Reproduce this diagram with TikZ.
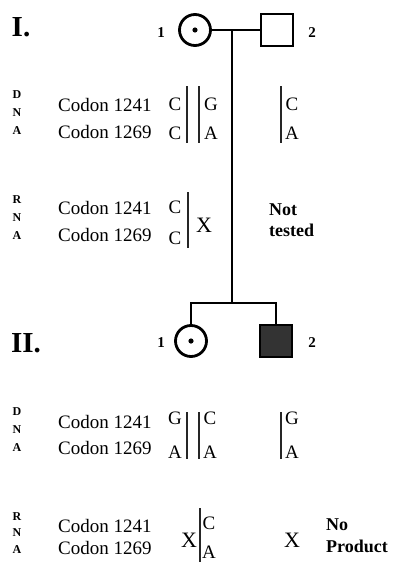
\documentclass[tikz,border=0pt]{standalone}
\usepackage{fontspec}
\setmainfont{Liberation Serif}
\usepackage{tikz}
\usetikzlibrary{positioning}

\begin{document}
\begin{tikzpicture}[x=1pt,y=-1pt,
  female/.style={circle,draw,line width=2.8pt,minimum size=31pt,inner sep=0pt},
  male/.style={rectangle,draw,line width=1.8pt,minimum size=32pt,inner sep=0pt},
  gen/.style={font=\bfseries\fontsize{29}{29}\selectfont},
  num/.style={font=\bfseries\fontsize{15}{15}\selectfont},
  codon/.style={anchor=west,inner sep=0pt,font=\fontsize{19}{19}\selectfont},
  base/.style={inner sep=0pt,font=\fontsize{19}{19}\selectfont},
  nobase/.style={inner sep=0pt,font=\fontsize{22}{22}\selectfont},
  acid/.style={align=center,inner sep=0pt,font=\bfseries\fontsize{12}{18}\selectfont},
  remark/.style={anchor=west,align=left,inner sep=0pt,font=\bfseries\fontsize{18}{21}\selectfont},
  allele/.style={line width=1.8pt,black!85}]
\useasboundingbox (0,0) rectangle (394,562);

% generation I
\node[gen] (genI) at (21,27) {I.};
\node[female] (I1) at (195,30) {};
\fill (I1) circle (2.6pt);
\node[male] (I2) at (277,30) {};
\node[num] (nI1) at (161,33) {1};
\node[num] (nI2) at (312,33) {2};
\coordinate (mate) at (232,30);
\coordinate (sib) at (232,303);
\draw[line width=2pt] (I1) -- (I2);
\draw[line width=2pt] (mate) -- (sib);

% generation II
\node[gen] (genII) at (26,343) {II.};
\node[female] (II1) at (191,341) {};
\fill (II1) circle (2.6pt);
\node[male,fill=black!80] (II2) at (276,341) {};
\node[num] (nII1) at (161,343) {1};
\node[num] (nII2) at (312,343) {2};
\draw[line width=2pt] (II1) |- (sib) -| (II2);

% I: DNA
\node[acid] (dnaI) at (17,113) {D\\N\\A};
\node[codon] (cIa) at (58,105) {Codon 1241};
\node[codon] (cIb) at (58,132) {Codon 1269};
\node[base] at (175,104) {C};
\node[base] at (175,133) {C};
\draw[allele] (187,86) -- (187,143);
\draw[allele] (199,86) -- (199,143);
\node[base] at (211,104) {G};
\node[base] at (211,133) {A};
\draw[allele] (281,86) -- (281,143);
\node[base] at (292,104) {C};
\node[base] at (292,133) {A};

% I: RNA
\node[acid] (rnaI) at (17,218) {R\\N\\A};
\node[codon] (rIa) at (58,208) {Codon 1241};
\node[codon] (rIb) at (58,235) {Codon 1269};
\node[base] at (175,207) {C};
\node[base] at (175,238) {C};
\draw[allele] (188,192) -- (188,248);
\node[nobase] at (204,225) {X};
\node[remark] (ntI2) at (269,220) {Not\\tested};

% II: DNA
\node[acid] (dnaII) at (17,430) {D\\N\\A};
\node[codon] (cIIa) at (58,422) {Codon 1241};
\node[codon] (cIIb) at (58,448) {Codon 1269};
\node[base] at (175,418) {G};
\node[base] at (175,452) {A};
\draw[allele] (187,412) -- (187,459);
\draw[allele] (199,412) -- (199,459);
\node[base] at (210,418) {C};
\node[base] at (210,452) {A};
\draw[allele] (281,412) -- (281,459);
\node[base] at (292,418) {G};
\node[base] at (292,452) {A};

% II: RNA
\node[acid,font=\bfseries\fontsize{12}{16.5}\selectfont] (rnaII) at (17,533) {R\\N\\A};
\node[codon] (rIIa) at (58,526) {Codon 1241};
\node[codon] (rIIb) at (58,548) {Codon 1269};
\node[nobase] at (189,540) {X};
\draw[allele] (200,508) -- (200,562);
\node[base] at (209,523) {C};
\node[base] at (209,552) {A};
\node[nobase] at (292,540) {X};
\node[remark,font=\bfseries\fontsize{18}{22}\selectfont] (npII2) at (326,536) {No\\Product};
\end{tikzpicture}
\end{document}
